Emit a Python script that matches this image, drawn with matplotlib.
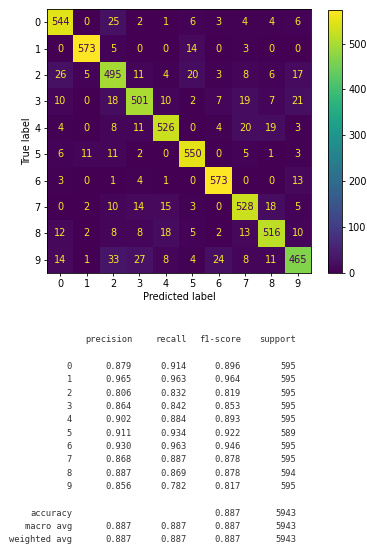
import numpy as np
import matplotlib
matplotlib.use("Agg")
import matplotlib.pyplot as plt

labels = ["0", "1", "2", "3", "4", "5", "6", "7", "8", "9"]
cm = np.array([
    [544, 0, 25, 2, 1, 6, 3, 4, 4, 6],
    [0, 573, 5, 0, 0, 14, 0, 3, 0, 0],
    [26, 5, 495, 11, 4, 20, 3, 8, 6, 17],
    [10, 0, 18, 501, 10, 2, 7, 19, 7, 21],
    [4, 0, 8, 11, 526, 0, 4, 20, 19, 3],
    [6, 11, 11, 2, 0, 550, 0, 5, 1, 3],
    [3, 0, 1, 4, 1, 0, 573, 0, 0, 13],
    [0, 2, 10, 14, 15, 3, 0, 528, 18, 5],
    [12, 2, 8, 8, 18, 5, 2, 13, 516, 10],
    [14, 1, 33, 27, 8, 4, 24, 8, 11, 465],
])
precision = [0.879, 0.965, 0.806, 0.864, 0.902, 0.911, 0.930, 0.868, 0.887, 0.856]
recall = [0.914, 0.963, 0.832, 0.842, 0.884, 0.934, 0.963, 0.887, 0.869, 0.782]
f1 = [0.896, 0.964, 0.819, 0.853, 0.893, 0.922, 0.946, 0.878, 0.878, 0.817]
support = [595, 595, 595, 595, 595, 589, 595, 595, 594, 595]
accuracy = 0.887
accuracy_support = 5943
macro_avg = [0.887, 0.887, 0.887, 5943]
weighted_avg = [0.887, 0.887, 0.887, 5943]
headers = ["precision", "recall", "f1-score", "support"]

W, H = 367, 554
fig = plt.figure(figsize=(W / 100, H / 100), dpi=100)

def fx(px):
    return px / W

def fy(py):
    return 1 - py / H

cmap = plt.get_cmap("viridis")
ax = fig.add_axes([fx(47), fy(273), fx(264), 264 / H])
im = ax.imshow(cm, cmap=cmap, vmin=cm.min(), vmax=cm.max(), interpolation="nearest")
thresh = (cm.max() + cm.min()) / 2.0
for i in range(cm.shape[0]):
    for j in range(cm.shape[1]):
        c = cmap(0.0) if cm[i, j] > thresh else cmap(1.0)
        ax.text(j, i, str(cm[i, j]), ha="center", va="center", color=c, fontsize=7)
ax.set_xticks(range(len(labels)))
ax.set_yticks(range(len(labels)))
ax.set_xticklabels(labels, fontsize=7)
ax.set_yticklabels(labels, fontsize=7)
ax.tick_params(length=2.5, width=0.6, pad=2)
ax.set_xlabel("Predicted label", fontsize=7, labelpad=2)
ax.set_ylabel("True label", fontsize=7, labelpad=2)
for s in ax.spines.values():
    s.set_linewidth(0.6)

cax = fig.add_axes([fx(328), fy(273), fx(14), 263 / H])
cb = fig.colorbar(im, cax=cax, ticks=[0, 100, 200, 300, 400, 500])
cb.ax.tick_params(labelsize=7, length=2.5, width=0.6, pad=2)
cb.outline.set_linewidth(0.6)

# classification report as text
mono = dict(family="DejaVu Sans Mono", fontsize=6.3, color="#333333", va="center")
col_right = [132, 187, 241, 296]
label_right = 72
line_h = 13.33
y0 = 340
for k, h in enumerate(headers):
    fig.text(fx(col_right[k]), fy(y0), h, ha="right", **mono)
for i, lab in enumerate(labels):
    y = y0 + (i + 2) * line_h
    fig.text(fx(label_right), fy(y), lab, ha="right", **mono)
    vals = [f"{precision[i]:.3f}", f"{recall[i]:.3f}", f"{f1[i]:.3f}", f"{support[i]}"]
    for k, v in enumerate(vals):
        fig.text(fx(col_right[k]), fy(y), v, ha="right", **mono)
y = y0 + 13 * line_h
fig.text(fx(label_right), fy(y), "accuracy", ha="right", **mono)
fig.text(fx(col_right[2]), fy(y), f"{accuracy:.3f}", ha="right", **mono)
fig.text(fx(col_right[3]), fy(y), f"{accuracy_support}", ha="right", **mono)
for r, (name, row) in enumerate([("macro avg", macro_avg), ("weighted avg", weighted_avg)]):
    y = y0 + (14 + r) * line_h
    fig.text(fx(label_right), fy(y), name, ha="right", **mono)
    vals = [f"{row[0]:.3f}", f"{row[1]:.3f}", f"{row[2]:.3f}", f"{row[3]}"]
    for k, v in enumerate(vals):
        fig.text(fx(col_right[k]), fy(y), v, ha="right", **mono)

fig.savefig("out.png", dpi=100)
